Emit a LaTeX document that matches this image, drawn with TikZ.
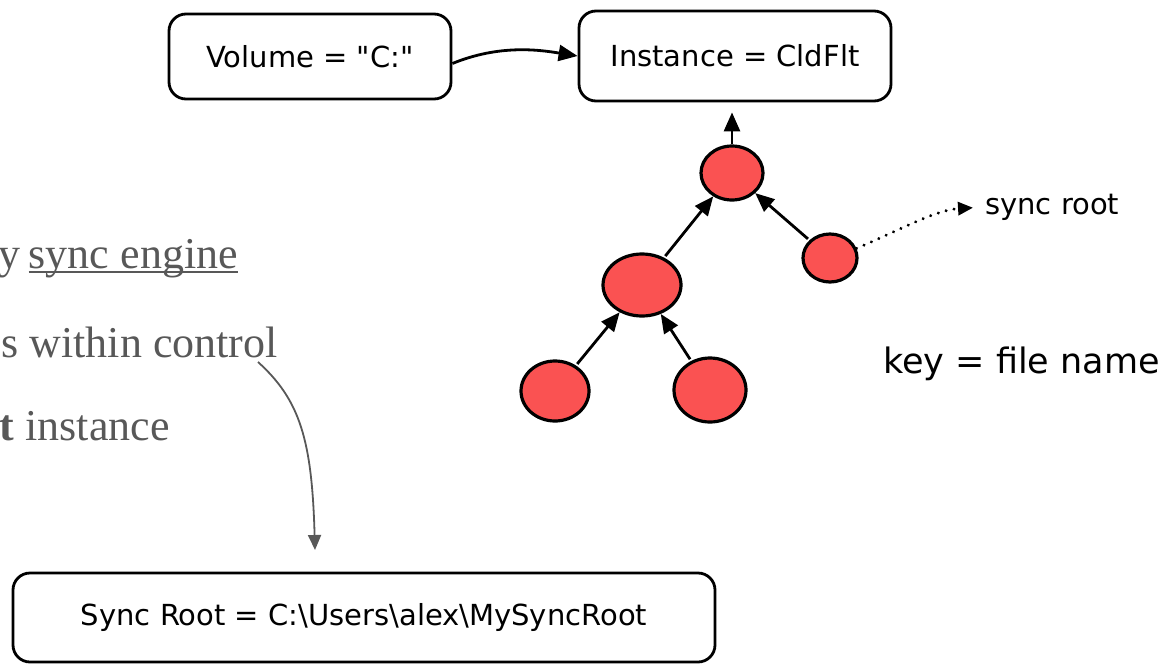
\documentclass[tikz,border=0pt]{standalone}
\usepackage{fontspec}
\setmainfont{Liberation Serif}
\newfontfamily\handfont{DejaVu Sans}
\usetikzlibrary{arrows.meta,shapes.geometric}
\definecolor{leafred}{HTML}{FA5252}
\definecolor{prose}{HTML}{585858}
\begin{document}
\begin{tikzpicture}[x=1pt,y=-1pt,
  box/.style={draw,line width=2.8pt,rounded corners=17pt,font=\handfont\fontsize{29}{34}\selectfont},
  leaf/.style={ellipse,draw,line width=3.2pt,fill=leafred,inner sep=0pt},
  tarr/.style={line width=2.8pt,-{Triangle[length=19pt,width=16pt]}},
  txt/.style={font=\fontsize{44}{50}\selectfont,text=prose,inner sep=0pt}]
\useasboundingbox (0,0) rectangle (1164,665);\clip (0,0) rectangle (1164,665);
\node[box,minimum width=282pt,minimum height=85pt] (vol) at (310,56.5) {Volume = "C:"};
\node[box,minimum width=312pt,minimum height=90pt] (inst) at (735,56) {Instance = CldFlt};
\node[box,minimum width=702pt,minimum height=89pt] (sroot) at (364,617.5) {Sync Root = C:\textbackslash Users\textbackslash alex\textbackslash MySyncRoot};
\foreach \n/\x/\y/\w/\h in {top/732/173/62/54,rt/830/258/54/48,mid/642/285/78/62,bl/555/391/68/60,br/710/390/72/64}{
  \node[leaf,minimum width=\w pt,minimum height=\h pt] (\n) at (\x,\y) {};}
\draw[tarr,shorten >=10pt] (top) -- (top |- inst.south);
\foreach \a/\b in {mid/top,rt/top,bl/mid,br/mid}{\draw[tarr,shorten <=2pt] (\a) -- (\b);}
\draw[tarr] ([yshift=-7pt]vol.east) .. controls (500,44) and (540,50) .. (inst.west);
\node[anchor=west,inner sep=0pt,font=\handfont\fontsize{29}{34}\selectfont] (srlbl) at (985,207) {sync root};
\draw[line width=3.2pt,line cap=round,dash pattern=on 0.1pt off 8pt,-{Triangle[length=15pt,width=13pt]},shorten >=12pt] (rt.20) .. controls (900,230) and (935,210) .. (srlbl.west);
\node[anchor=base west,inner sep=0pt,font=\handfont\fontsize{35}{40}\selectfont] (key) at (883,373) {key = file name};
\node[txt,anchor=base east] (eng) at (238,268) {sync engine};
\node[txt,anchor=base east,xshift=-8pt] (engy) at (eng.base west) {y};
\draw[prose,line width=1.8pt] ([yshift=-4pt]eng.base west) -- ([yshift=-4pt]eng.base east);
\node[txt,anchor=base east] (ctrl) at (278,357) {s within control};
\node[txt,anchor=base east] (ftinst) at (170,440) {\textbf{t} instance};
\coordinate (c0) at (258,362);\coordinate (c1) at (315,550);
\draw[prose,line width=1.8pt,-{Triangle[length=15pt,width=13pt]}] (c0) .. controls (300,400) and (312,440) .. (c1);
\end{tikzpicture}
\end{document}
